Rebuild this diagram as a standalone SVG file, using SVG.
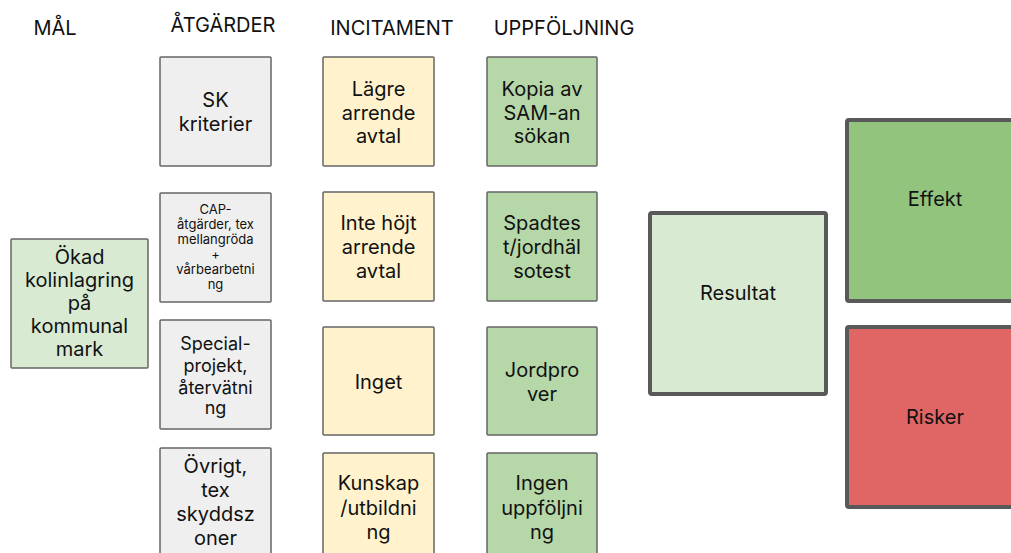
<svg xmlns="http://www.w3.org/2000/svg" width="1011" height="553" viewBox="0 0 1011 553">
<style>
text{font-family:Inter,"Noto Sans","Liberation Sans",sans-serif;fill:#111;text-anchor:middle}
.h{font-size:20px}
.t{font-size:20px}
.s{font-size:18px}
.xs{font-size:13px}
.b{stroke:#666;stroke-width:1.5}
.B{stroke:#595959;stroke-width:4}
.g{fill:#efefef}.y{fill:#fff2cc}.gr{fill:#b6d7a8}.lg{fill:#d9ead3}
</style>
<rect width="1011" height="553" fill="#fff"/>
<g id="headers">
<text class="h" x="55" y="35">MÅL</text>
<text class="h" x="223" y="32">ÅTGÄRDER</text>
<text class="h" x="392" y="35">INCITAMENT</text>
<text class="h" x="564" y="35">UPPFÖLJNING</text>
</g>
<g id="connectors"></g>
<g id="mal">
<rect class="b lg" x="11" y="239" width="137" height="129" rx="1"/>
<text class="t" x="79.5" y="264">Ökad</text>
<text class="t" x="79.5" y="287">kolinlagring</text>
<text class="t" x="79.5" y="310">på</text>
<text class="t" x="79.5" y="333">kommunal</text>
<text class="t" x="79.5" y="356">mark</text>
</g>
<g id="atg1">
<rect class="b g" x="160" y="57" width="111" height="109" rx="1"/>
<text class="t" x="215.5" y="107">SK</text>
<text class="t" x="215.5" y="131">kriterier</text>
</g>
<g id="atg2">
<rect class="b g" x="160" y="193" width="111" height="109" rx="1"/>
<text class="xs" x="215.5" y="214">CAP-</text>
<text class="xs" x="215.5" y="229">åtgärder, tex</text>
<text class="xs" x="215.5" y="244">mellangröda</text>
<text class="xs" x="215.5" y="259">+</text>
<text class="xs" x="215.5" y="274">vårbearbetni</text>
<text class="xs" x="215.5" y="289">ng</text>
</g>
<g id="atg3">
<rect class="b g" x="160" y="320" width="111" height="109" rx="1"/>
<text class="s" x="215.5" y="350">Special-</text>
<text class="s" x="215.5" y="372">projekt,</text>
<text class="s" x="215.5" y="394">återvätni</text>
<text class="s" x="215.5" y="414">ng</text>
</g>
<g id="atg4">
<rect class="b g" x="160" y="448" width="111" height="120" rx="1"/>
<text class="t" x="215.5" y="473">Övrigt,</text>
<text class="t" x="215.5" y="497">tex</text>
<text class="t" x="215.5" y="521">skyddsz</text>
<text class="t" x="215.5" y="545">oner</text>
</g>
<g id="inc1">
<rect class="b y" x="323" y="57" width="111" height="109" rx="1"/>
<text class="t" x="378.5" y="96">Lägre</text>
<text class="t" x="378.5" y="120">arrende</text>
<text class="t" x="378.5" y="143">avtal</text>
</g>
<g id="inc2">
<rect class="b y" x="323" y="192" width="111" height="109" rx="1"/>
<text class="t" x="378.5" y="230">Inte höjt</text>
<text class="t" x="378.5" y="254">arrende</text>
<text class="t" x="378.5" y="278">avtal</text>
</g>
<g id="inc3">
<rect class="b y" x="323" y="327" width="111" height="108" rx="1"/>
<text class="t" x="378.5" y="389">Inget</text>
</g>
<g id="inc4">
<rect class="b y" x="323" y="453" width="111" height="120" rx="1"/>
<text class="t" x="378.5" y="490">Kunskap</text>
<text class="t" x="378.5" y="515">/utbildni</text>
<text class="t" x="378.5" y="539">ng</text>
</g>
<g id="upp1">
<rect class="b gr" x="487" y="57" width="110" height="109" rx="1"/>
<text class="t" x="542" y="96">Kopia av</text>
<text class="t" x="542" y="120">SAM-an</text>
<text class="t" x="542" y="143">sökan</text>
</g>
<g id="upp2">
<rect class="b gr" x="487" y="192" width="110" height="109" rx="1"/>
<text class="t" x="542" y="230">Spadtes</text>
<text class="t" x="542" y="254">t/jordhäl</text>
<text class="t" x="542" y="278">sotest</text>
</g>
<g id="upp3">
<rect class="b gr" x="487" y="327" width="110" height="108" rx="1"/>
<text class="t" x="542" y="377">Jordpro</text>
<text class="t" x="542" y="401">ver</text>
</g>
<g id="upp4">
<rect class="b gr" x="487" y="453" width="110" height="120" rx="1"/>
<text class="t" x="542" y="490">Ingen</text>
<text class="t" x="542" y="515">uppföljni</text>
<text class="t" x="542" y="539">ng</text>
</g>
<g id="resultat">
<rect class="B lg" x="650" y="213" width="176" height="181" rx="2"/>
<text class="t" x="738" y="300">Resultat</text>
</g>
<g id="effekt">
<rect class="B" fill="#93c47d" x="847" y="120" width="180" height="181" rx="2"/>
<text class="t" x="935" y="206">Effekt</text>
</g>
<g id="risker">
<rect class="B" fill="#e06666" x="847" y="327" width="180" height="180" rx="2"/>
<text class="t" x="935" y="424">Risker</text>
</g>
</svg>
